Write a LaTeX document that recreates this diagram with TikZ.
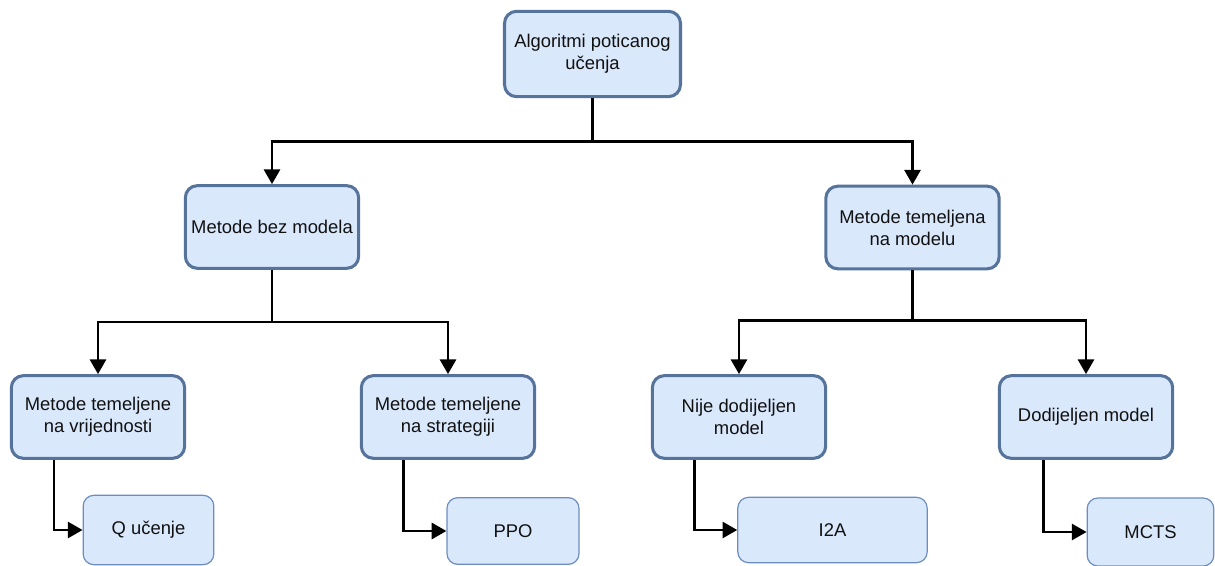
\documentclass[tikz,border=0pt]{standalone}
\usepackage{fontspec}
\setmainfont{Liberation Sans}
\usetikzlibrary{arrows.meta}
\definecolor{boxfill}{HTML}{DAE8FC}
\definecolor{boxdraw}{HTML}{56739C}
\definecolor{leafdraw}{HTML}{6C8EBF}
\definecolor{txt}{HTML}{111111}
\begin{document}
\begin{tikzpicture}[x=0.75pt,y=-0.75pt,
  txtstyle/.style={align=center, text=txt, font=\fontsize{13.8}{16.5}\selectfont, inner sep=0pt},
  box/.style={txtstyle, draw=boxdraw, line width=2.3pt, fill=boxfill, rounded corners=9pt, minimum width=130pt, minimum height=62pt},
  leaf/.style={txtstyle, draw=leafdraw, line width=0.9pt, fill=boxfill, rounded corners=8pt},
  conn/.style={line width=2pt, -{Triangle[width=12pt,length=11pt]}}
]
\useasboundingbox (0,0) rectangle (1215,566);

\node[box, minimum width=132pt, minimum height=64pt] (A) at (592.5,54) {Algoritmi poticanog\\učenja};
\node[box] (B1) at (272,227) {Metode bez modela};
\node[box] (B2) at (912.5,227.5) {Metode temeljena\\na modelu};
\node[box] (C1) at (98,417) {Metode temeljene\\na vrijednosti};
\node[box] (C2) at (448,417) {Metode temeljene\\na strategiji};
\node[box] (C3) at (739,417) {Nije dodijeljen\\model};
\node[box] (C4) at (1086,417) {Dodijeljen model};

\node[leaf, minimum width=98pt, minimum height=52pt] (L1) at (148.5,530) {Q učenje};
\node[leaf, minimum width=99pt, minimum height=50pt] (L2) at (513,531) {PPO};
\node[leaf, minimum width=142pt, minimum height=49pt] (L3) at (832.5,530) {I2A};
\node[leaf, minimum width=95pt, minimum height=51pt] (L4) at (1150.5,532) {MCTS};

\draw[conn] (A.south) -- ++(0,43) -| (B1.north);
\draw[conn] (A.south) -- ++(0,43) -| (B2.north);
\draw[conn] (B1.south) -- ++(0,52) -| (C1.north);
\draw[conn] (B1.south) -- ++(0,52) -| (C2.north);
\draw[conn] (B2.south) -- ++(0,50) -| (C3.north);
\draw[conn] (B2.south) -- ++(0,50) -| (C4.north);

\draw[conn] ([xshift=-33pt]C1.south) |- (L1.west);
\draw[conn] ([xshift=-33.5pt]C2.south) |- (L2.west);
\draw[conn] ([xshift=-33.5pt]C3.south) |- (L3.west);
\draw[conn] ([xshift=-32pt]C4.south) |- (L4.west);
\end{tikzpicture}
\end{document}
